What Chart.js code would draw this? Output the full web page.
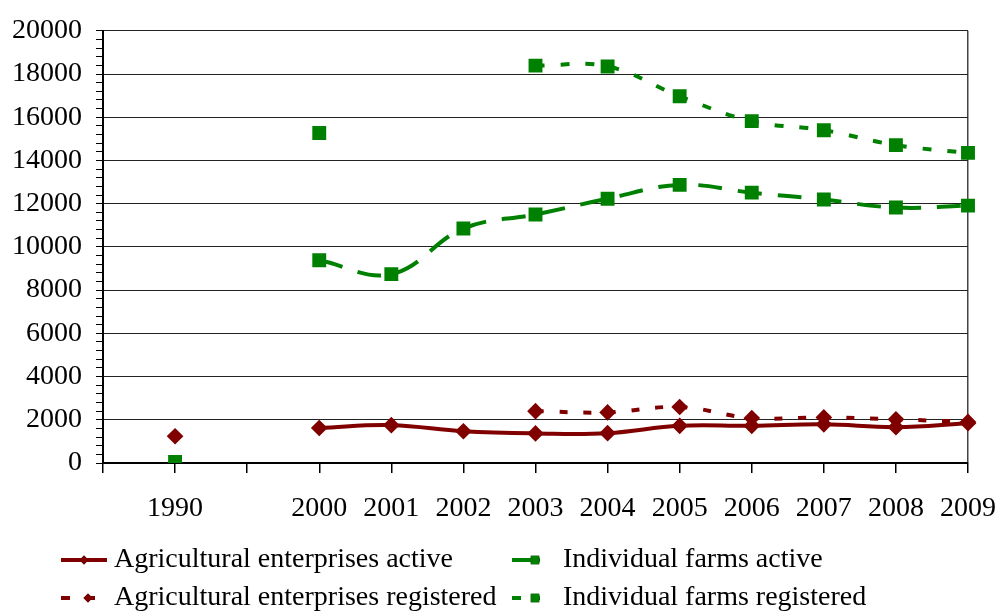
<!DOCTYPE html>
<html>
<head>
<meta charset="utf-8">
<script src="https://cdn.jsdelivr.net/npm/chart.js@4.4.1/dist/chart.umd.min.js"></script>
<style>
  html, body { margin: 0; padding: 0; background: #fff; }
  #wrap { width: 998px; height: 613px; }
</style>
</head>
<body>
<div id="wrap"><canvas id="chart" width="998" height="613"></canvas></div>
<script>
// categories (blank slots keep the gap before 1990 and between 1990 and 2000)
const years = ["", "1990", "", "2000", "2001", "2002", "2003", "2004", "2005", "2006", "2007", "2008", "2009"];

// series values
const aeActive     = [null, 1240, null, 1620, 1750, 1470, 1370, 1380, 1720, 1720, 1790, 1660, 1840];
const aeRegistered = [null, null, null, null, null, null, 2400, 2340, 2590, 2080, 2110, 2020, 1900];
const ifActive     = [null, 50, null, 9380, 8740, 10850, 11500, 12230, 12870, 12510, 12190, 11820, 11910];
const ifRegistered = [null, null, null, 15270, null, null, 18390, 18350, 16970, 15820, 15400, 14710, 14350];

const yMax = 20000;
const yMajor = 2000;
const yMinor = 400;

const red = "#800000";
const green = "#008000";
const fontFam = "'Liberation Serif', 'Times New Roman', serif";

//Setup datasets
const data = {
  labels: years,
  datasets: [
    {label: "Agricultural enterprises active", data: aeActive, borderColor: red, backgroundColor: red,
     borderWidth: 4, pointStyle: "rectRot", pointRadius: 5.5, legendDash: [], legendMark: 84},
    {label: "Agricultural enterprises registered", data: aeRegistered, borderColor: red, backgroundColor: red,
     borderWidth: 4, borderDash: [8, 16], pointStyle: "rectRot", pointRadius: 5.5, legendDash: [9, 16], legendMark: 88},
    {label: "Individual farms active", data: ifActive, borderColor: green, backgroundColor: green,
     borderWidth: 4, borderDash: [24, 16], pointStyle: "rect", pointRadius: 7, legendDash: [], legendMark: 535},
    {label: "Individual farms registered", data: ifRegistered, borderColor: green, backgroundColor: green,
     borderWidth: 4, borderDash: [9, 16], pointStyle: "rect", pointRadius: 7, legendDash: [9, 16], legendMark: 535}
  ]
};

//legend plugin, drawn below the plot in two columns
const legendSpots = [
  {x0: 61, x1: 107, tx: 114, y: 560},
  {x0: 61, x1: 107, tx: 114, y: 598},
  {x0: 512, x1: 540, tx: 563, y: 560},
  {x0: 512, x1: 540, tx: 563, y: 598}
];
const bottomLegend = {
  id: "bottomLegend",
  afterDraw(chart) {
    const ctx = chart.ctx;
    ctx.save();
    chart.data.datasets.forEach((ds, i) => {
      const s = legendSpots[i];
      ctx.strokeStyle = ds.borderColor;
      ctx.lineWidth = 4;
      ctx.setLineDash(ds.legendDash);
      ctx.beginPath();
      ctx.moveTo(s.x0, s.y);
      ctx.lineTo(s.x1, s.y);
      ctx.stroke();
      ctx.setLineDash([]);
      Chart.helpers.drawPoint(ctx, {pointStyle: ds.pointStyle, radius: ds.pointRadius - 1, rotation: 0, borderWidth: 0},
        ds.legendMark, s.y);
      ctx.fillStyle = ds.backgroundColor;
      ctx.fill();
      ctx.fillStyle = "#000";
      ctx.font = "28px " + fontFam;
      ctx.textBaseline = "middle";
      ctx.textAlign = "left";
      ctx.fillText(ds.label, s.tx, s.y);
    });
    ctx.restore();
  }
};

//Configurations
const config = {
  type: "line",
  data: data,
  options: {
    responsive: false,
    animation: false,
    spanGaps: false,
    layout: {padding: {top: 28, right: 0, bottom: 0, left: 0}},
    elements: {
      line: {tension: 0.4, cubicInterpolationMode: "default"},
      point: {borderWidth: 0, hoverRadius: 6}
    },
    scales: {
      x: {
        offset: false,
        grid: {
          color: (c) => c.index === years.length - 1 ? "#444" : "rgba(0,0,0,0)",
          tickColor: "#000",
          tickLength: 10,
          lineWidth: 1.5
        },
        border: {display: true, color: "#000", width: 2},
        ticks: {autoSkip: false, maxRotation: 0, padding: 19, color: "#000", font: {family: fontFam, size: 28}},
        afterFit: (scale) => { scale.height = 150; scale.paddingRight = 30; scale.paddingLeft = 0; }
      },
      y: {
        min: 0,
        max: yMax,
        grid: {
          color: (c) => (c.tick && c.tick.value % yMajor === 0) ? "#222" : "rgba(0,0,0,0)",
          tickColor: "#000",
          tickLength: 7,
          lineWidth: 1
        },
        border: {display: true, color: "#000", width: 2},
        ticks: {
          stepSize: yMinor,
          autoSkip: false,
          padding: 14,
          color: "#000",
          font: {family: fontFam, size: 28},
          callback: (v) => v % yMajor === 0 ? String(v) : ""
        },
        afterFit: (scale) => { scale.width = 103; }
      }
    },
    plugins: {
      legend: {display: false},
      tooltip: {enabled: false}
    }
  },
  plugins: [bottomLegend]
};

//Render
const chart = new Chart(document.getElementById("chart"), config);
</script>
</body>
</html>
